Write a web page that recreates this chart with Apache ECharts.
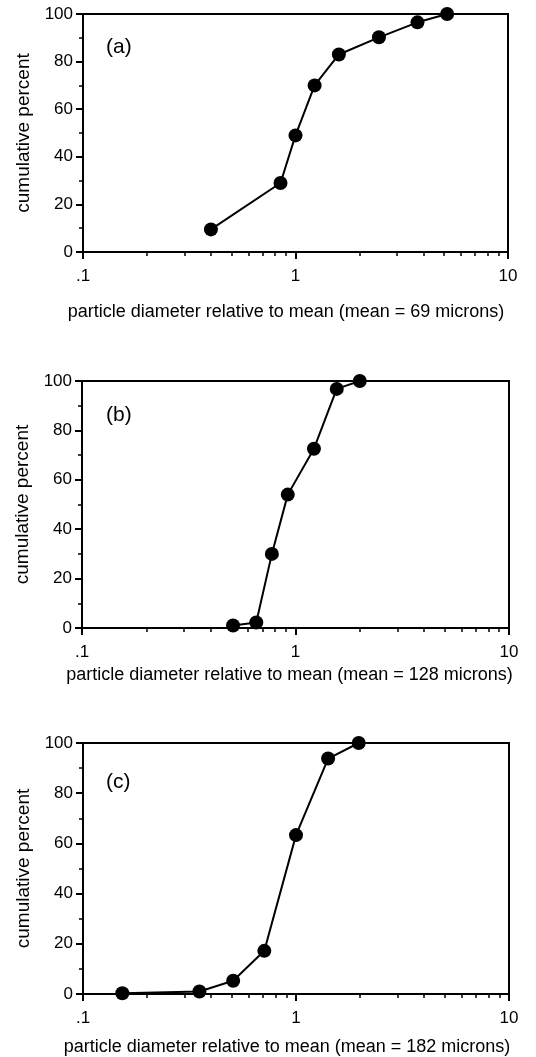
<!DOCTYPE html>
<html><head><meta charset="utf-8">
<script src="https://cdn.jsdelivr.net/npm/echarts@6/dist/echarts.min.js"></script>
<style>html,body{margin:0;padding:0;background:#fff}#c{width:536px;height:1057px}</style>
</head><body><div id="c"></div>
<script>
// Data
const xA = [0.4, 0.85, 1.0, 1.23, 1.6, 2.47, 3.75, 5.17];
const yA = [9.5, 29, 49, 70, 83, 90.2, 96.5, 100];
const xB = [0.51, 0.655, 0.775, 0.92, 1.22, 1.56, 2.0];
const yB = [1, 2.2, 30, 54, 72.6, 96.8, 100];
const xC = [0.153, 0.352, 0.507, 0.71, 1.0, 1.415, 1.97];
const yC = [0.3, 1, 5.3, 17.2, 63.3, 93.8, 100];
const panelLabels = ['(a)', '(b)', '(c)'];
const xNames = [
  'particle diameter relative to mean (mean = 69 microns)',
  'particle diameter relative to mean (mean = 128 microns)',
  'particle diameter relative to mean (mean = 182 microns)'
];
const yName = 'cumulative percent';
const xMajorTicks = [0.1, 1, 10];
const xMinorTicks = [0.2, 0.3, 0.4, 0.5, 0.6, 0.7, 0.8, 0.9, 2, 3, 4, 5, 6, 7, 8, 9];

const FONT = '"Liberation Sans", Arial, Helvetica, sans-serif';
const seriesX = [xA, xB, xC];
const seriesY = [yA, yB, yC];

const grids = [
  {left: 83, width: 425, top: 14, height: 238},
  {left: 82, width: 427, top: 381, height: 247},
  {left: 83, width: 426, top: 743, height: 253}
];
const xNameGaps = [51, 38, 44];
const xNameShift = [19, 12, 18];
const titleTops = [37, 405, 772];

const fmtX = v => (Math.abs(v - 0.1) < 1e-9 ? '.1' : String(Math.round(v)));

const option = {
  animation: false,
  backgroundColor: '#fff',
  textStyle: {fontFamily: FONT, color: '#000'},
  title: panelLabels.map((t, i) => ({
    text: t, left: 106, top: titleTops[i], padding: 0,
    textStyle: {fontFamily: FONT, fontSize: 21, fontWeight: 'normal', color: '#000'}
  })),
  grid: grids.map(g => Object.assign({show: true, borderColor: '#000', borderWidth: 2, backgroundColor: 'transparent'}, g)),
  xAxis: [],
  yAxis: [],
  series: []
};

for (let i = 0; i < 3; i++) {
  option.xAxis.push({
    type: 'log', logBase: 10, min: 0.1, max: 10, gridIndex: i, position: 'bottom',
    name: xNames[i], nameLocation: 'middle', nameGap: xNameGaps[i],
    nameTextStyle: {fontFamily: FONT, fontSize: 18, color: '#000', padding: [0, xNameShift[i], 0, 0]},
    axisLine: {show: true, lineStyle: {color: '#000', width: 2}},
    axisTick: {show: true, length: 7, lineStyle: {color: '#000', width: 2}, customValues: xMajorTicks},
    axisLabel: {show: true, margin: 16, fontFamily: FONT, fontSize: 17, color: '#000', formatter: fmtX, customValues: xMajorTicks},
    splitLine: {show: false}
  });
  option.xAxis.push({
    type: 'log', logBase: 10, min: 0.1, max: 10, gridIndex: i, position: 'bottom',
    axisLine: {show: false},
    axisTick: {show: true, length: 4, lineStyle: {color: '#000', width: 1.5}, customValues: xMinorTicks},
    axisLabel: {show: false},
    splitLine: {show: false}
  });
  option.yAxis.push({
    type: 'value', min: 0, max: 100, interval: 20, gridIndex: i,
    name: yName, nameLocation: 'middle', nameGap: 49,
    nameTextStyle: {fontFamily: FONT, fontSize: 19, color: '#000'},
    axisLine: {show: true, lineStyle: {color: '#000', width: 2}},
    axisTick: {show: true, length: 7, lineStyle: {color: '#000', width: 2}},
    minorTick: {show: true, splitNumber: 2, length: 4, lineStyle: {color: '#000', width: 1.5}},
    axisLabel: {margin: 10, fontFamily: FONT, fontSize: 17, color: '#000'},
    splitLine: {show: false},
    minorSplitLine: {show: false}
  });
  option.series.push({
    type: 'line', xAxisIndex: 2 * i, yAxisIndex: i,
    data: seriesX[i].map((x, k) => [x, seriesY[i][k]]),
    symbol: 'circle', symbolSize: 14, clip: false, z: 5,
    itemStyle: {color: '#000'},
    lineStyle: {color: '#000', width: 2}
  });
}

const chart = echarts.init(document.getElementById('c'), null, {renderer: 'canvas'});
chart.setOption(option);
</script>
</body></html>
